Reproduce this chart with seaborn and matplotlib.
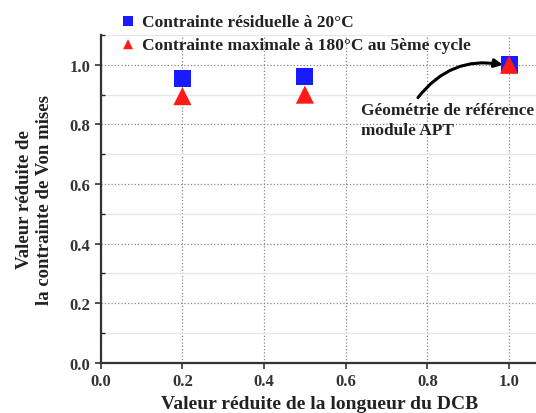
import matplotlib
matplotlib.use("Agg")
import matplotlib.pyplot as plt
import seaborn as sns
import pandas as pd
from matplotlib.ticker import MultipleLocator

# reduced DCB length and reduced Von Mises stress
longueur = [0.2, 0.5, 1.0]
residuelle = [0.955, 0.96, 1.0]
maximale = [0.895, 0.90, 1.0]

label_res = "Contrainte résiduelle à 20°C"
label_max = "Contrainte maximale à 180°C au 5ème cycle"

df_res = pd.DataFrame({"x": longueur, "y": residuelle})
df_max = pd.DataFrame({"x": longueur, "y": maximale})

sns.set_style("white")
plt.rcParams["font.family"] = ["Liberation Serif", "DejaVu Serif"]
plt.rcParams["font.weight"] = "bold"

fig = plt.figure(figsize=(5.36, 4.14), dpi=100)
ax = fig.add_axes([0.188, 0.121, 0.815, 0.792])

sns.scatterplot(data=df_res, x="x", y="y", marker="s", color="#1a1aff",
                s=150, edgecolor="none", label=label_res, ax=ax, zorder=3)
sns.scatterplot(data=df_max, x="x", y="y", marker="^", color="#ff1a1a",
                s=170, edgecolor="none", label=label_max, ax=ax, zorder=4)

ax.set_xlim(0, 1.07)
ax.set_ylim(0, 1.1)
ax.xaxis.set_major_locator(MultipleLocator(0.2))
ax.yaxis.set_major_locator(MultipleLocator(0.2))
ax.yaxis.set_minor_locator(MultipleLocator(0.1))
ax.grid(True, which="major", linestyle=":", color="#888888", linewidth=0.9)
ax.grid(True, which="minor", axis="y", linestyle="-", color="#e6e6e6", linewidth=0.9)
ax.set_axisbelow(True)

for side in ["top", "right"]:
    ax.spines[side].set_visible(False)
for side in ["left", "bottom"]:
    ax.spines[side].set_color("#333333")
    ax.spines[side].set_linewidth(1.6)

ticks = [0.0, 0.2, 0.4, 0.6, 0.8, 1.0]
tick_labels = ["0.0", "0.2", "0.4", "0.6", "0.8", "1.0"]
ax.set_xticks(ticks)
ax.set_xticklabels(tick_labels, fontweight="bold")
ax.set_yticks(ticks)
ax.set_yticklabels(tick_labels, fontweight="bold")
ax.tick_params(which="major", direction="out", length=4, width=1.2,
               labelsize=12, colors="#333333", left=True, bottom=True)
ax.tick_params(which="minor", direction="in", length=3, width=1.0, left=True)

ax.set_xlabel("Valeur réduite de la longueur du DCB", fontsize=14,
              fontweight="bold", color="#222222", labelpad=4)
ax.set_ylabel("Valeur réduite de\nla contrainte de Von mises", fontsize=13.5,
              fontweight="bold", color="#222222", labelpad=12)

ax.annotate("Géométrie de référence\nmodule APT", xy=(0.985, 1.0),
            xytext=(0.638, 0.875), fontsize=12.4, fontweight="bold",
            color="#222222", ha="left", va="top", linespacing=1.3)
ax.annotate("", xy=(0.985, 1.0), xytext=(0.777, 0.89),
            arrowprops=dict(arrowstyle="-|>", color="black", lw=2.2,
                            connectionstyle="arc3,rad=-0.3",
                            shrinkA=0, shrinkB=0, mutation_scale=12))

leg = ax.legend(loc="upper left", bbox_to_anchor=(0.2, 0.99),
                bbox_transform=fig.transFigure, frameon=False,
                fontsize=12.5, markerscale=0.55, handletextpad=0.2,
                labelspacing=0.4, borderaxespad=0.2, handlelength=1.2)
for t in leg.get_texts():
    t.set_fontweight("bold")
    t.set_color("#222222")

fig.savefig("out.png", dpi=100)
